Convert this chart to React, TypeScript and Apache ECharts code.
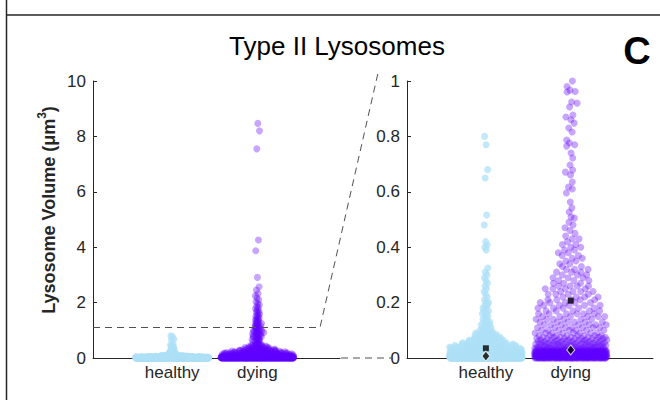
import React, { useEffect, useRef } from "react";
import * as echarts from "echarts";

// ---------------- data ----------------
const categories = ["healthy", "dying"];
const categoryX = [1, 2];

// healthy: dense part as value levels with the number of points at each level
const healthyLevels = [0, 0.005, 0.01, 0.015, 0.02, 0.025, 0.03, 0.035, 0.04, 0.045, 0.05, 0.055, 0.06, 0.065, 0.07, 0.075, 0.08, 0.085, 0.09, 0.095, 0.1,
  0.11, 0.12, 0.13, 0.14, 0.15, 0.16, 0.17, 0.18, 0.19, 0.2, 0.21, 0.22, 0.23, 0.24, 0.25, 0.26, 0.27, 0.28, 0.29];
const healthyCounts = [150, 140, 100, 50, 25, 30, 22, 16, 13, 10, 9, 8, 7, 6, 5, 5, 4, 4, 4, 3, 3,
  3, 3, 3, 2, 2, 2, 2, 2, 2, 2, 1, 1, 1, 1, 1, 1, 1, 1, 1];
// healthy: sparse single points
const healthySingles = [0.3, 0.31, 0.325, 0.39, 0.4, 0.408, 0.42, 0.48, 0.516, 0.65, 0.68, 0.77, 0.8];

// dying: dense part
const dyingLevels = [0, 0.005, 0.01, 0.015, 0.02, 0.025, 0.03, 0.035, 0.04, 0.045, 0.05, 0.055, 0.06, 0.065, 0.07, 0.075,
  0.08, 0.09, 0.1, 0.11, 0.12, 0.13, 0.14, 0.15, 0.16, 0.17, 0.18, 0.19, 0.2, 0.21, 0.22, 0.23, 0.24, 0.25, 0.26, 0.27, 0.28, 0.29,
  0.3, 0.31, 0.32, 0.33, 0.34, 0.35, 0.36, 0.37, 0.38, 0.39, 0.4, 0.41, 0.42, 0.43, 0.44, 0.45, 0.46, 0.47, 0.48, 0.49];
const dyingCounts = [70, 70, 65, 60, 55, 45, 18, 14, 12, 11, 10, 10, 9, 8, 7, 7,
  8, 8, 7, 7, 7, 6, 6, 6, 6, 5, 5, 5, 5, 5, 4, 4, 4, 4, 4, 3, 3, 3,
  3, 3, 3, 2, 2, 2, 2, 2, 2, 2, 2, 2, 1, 2, 1, 1, 1, 1, 1, 1];
// dying: sparse single points (0.5 .. 1)
const dyingSingles = [0.505, 0.509, 0.527, 0.542, 0.563, 0.596, 0.61, 0.617, 0.635, 0.661, 0.671, 0.679, 0.697, 0.722, 0.74, 0.765, 0.77,
  0.776, 0.787, 0.816, 0.83, 0.848, 0.86, 0.87, 0.877, 0.906, 0.92, 0.924, 0.96, 0.962, 0.967, 0.98, 1.0];
// dying: long tail above 1
const dyingTail = [1.01, 1.03, 1.04, 1.06, 1.08, 1.09, 1.11, 1.13, 1.15, 1.16, 1.18, 1.2, 1.22, 1.24, 1.25, 1.27, 1.3, 1.32, 1.34, 1.37,
  1.39, 1.42, 1.44, 1.47, 1.5, 1.53, 1.56, 1.6, 1.63, 1.67, 1.7, 1.74, 1.78, 1.82, 1.87, 1.92, 1.97, 2.03, 2.1, 2.17, 2.25, 2.33, 2.45,
  2.57, 2.91, 3.87, 4.26, 7.55, 8.2, 8.47];

// summary markers (right panel)
const meanValues = [0.035, 0.207];
const medianValues = [0.007, 0.029];

// tick settings
const leftTicks = { min: 0, max: 10, interval: 2 };
const rightTicks = { min: 0, max: 1, interval: 0.2 };

// ---------------- layout helpers ----------------
const FONT = "Liberation Sans, Arial, Helvetica, sans-serif";
const AX = "#262626";
const X_MIN = 0.07;
const X_MAX = 2.97;
const GRID_W = 247;
const PX_PER_UNIT = GRID_W / (X_MAX - X_MIN);
const GOLD = 0.6180339887498949;

function expand(levels: number[], counts: number[], extra: number[][]): number[] {
  const out: number[] = [];
  levels.forEach((v, i) => {
    for (let k = 0; k < counts[i]; k++) out.push(v);
  });
  extra.forEach((arr) => arr.forEach((v) => out.push(v)));
  return out;
}

// deterministic violin-style spread: half-width follows local point density
function spread(values: number[], center: number, K: number): number[][] {
  const wMin = 2, wMax = 36.5, h = 0.015;
  return values.map((v, i) => {
    let n = 0;
    for (let j = 0; j < values.length; j++) if (Math.abs(values[j] - v) < h) n++;
    const w = Math.max(wMin, Math.min(wMax, K * n));
    const f = (0.5 + i * GOLD) % 1;
    const u = f * 2 - 1;
    return [center + (u * w) / PX_PER_UNIT, v];
  });
}

const healthyValues = expand(healthyLevels, healthyCounts, [healthySingles]);
const dyingValues = expand(dyingLevels, dyingCounts, [dyingSingles, dyingTail]);
const healthyPts = spread(healthyValues, categoryX[0], 0.6);
const dyingPts = spread(dyingValues, categoryX[1], 2.2);

const HEALTHY_COLOR = "#ade0f7";
const DYING_COLOR = "#6200ff";

function xAxis(gridIndex: number) {
  return {
    gridIndex,
    type: "value",
    min: X_MIN,
    max: X_MAX,
    axisLine: { show: true, lineStyle: { color: AX, width: 1 } },
    axisTick: { show: false },
    splitLine: { show: false },
    axisLabel: {
      customValues: categoryX,
      formatter: (v: number) => {
        const i = categoryX.findIndex((c) => Math.abs(c - v) < 1e-6);
        return i >= 0 ? categories[i] : "";
      },
      color: AX,
      fontSize: 17,
      fontFamily: FONT,
      margin: 6,
    },
  };
}

function yAxis(gridIndex: number, t: { min: number; max: number; interval: number }) {
  return {
    gridIndex,
    type: "value",
    min: t.min,
    max: t.max,
    interval: t.interval,
    axisLine: { show: true, lineStyle: { color: AX, width: 1 } },
    axisTick: { show: true, inside: true, length: 4, lineStyle: { color: AX } },
    splitLine: { show: false },
    axisLabel: { color: AX, fontSize: 17, fontFamily: FONT, margin: 7 },
  };
}

function pointSeries(xi: number, data: number[][], color: string, opacity: number) {
  return {
    type: "scatter",
    xAxisIndex: xi,
    yAxisIndex: xi,
    data,
    symbol: "circle",
    symbolSize: 7,
    itemStyle: { color, opacity },
    silent: true,
    clip: true,
  };
}

const dash = { stroke: "#505050", lineWidth: 1, lineDash: [7, 5], fill: "none" };

const option = {
  animation: false,
  backgroundColor: "#ffffff",
  grid: [
    { left: 93, top: 81, width: GRID_W, height: 277 },
    { left: 407, top: 81, width: 246, height: 277 },
  ],
  xAxis: [xAxis(0), xAxis(1)],
  yAxis: [yAxis(0, leftTicks), yAxis(1, rightTicks)],
  series: [
    pointSeries(0, healthyPts, HEALTHY_COLOR, 0.75),
    pointSeries(0, dyingPts, DYING_COLOR, 0.35),
    pointSeries(1, healthyPts, HEALTHY_COLOR, 0.75),
    pointSeries(1, dyingPts, DYING_COLOR, 0.35),
    {
      type: "scatter",
      xAxisIndex: 1,
      yAxisIndex: 1,
      z: 5,
      silent: true,
      symbol: "rect",
      symbolSize: 6,
      itemStyle: { color: "#000000" },
      data: categoryX.map((c, i) => [c, meanValues[i]]),
    },
    {
      type: "scatter",
      xAxisIndex: 1,
      yAxisIndex: 1,
      z: 5,
      silent: true,
      symbol: "diamond",
      symbolSize: [8, 10],
      itemStyle: { color: "#000000", borderColor: "#ffffff", borderWidth: 1 },
      data: categoryX.map((c, i) => [c, medianValues[i]]),
    },
  ],
  graphic: [
    { type: "line", shape: { x1: 6.5, y1: 0, x2: 6.5, y2: 400 }, style: { stroke: "#262626", lineWidth: 1.5 } },
    { type: "line", shape: { x1: 6, y1: 15, x2: 660, y2: 15 }, style: { stroke: "#262626", lineWidth: 1.5 } },
    { type: "polyline", shape: { points: [[93, 327.5], [320, 327.5], [378, 73]] }, style: dash, z: 10 },
    { type: "line", shape: { x1: 341, y1: 358, x2: 393, y2: 358 }, style: dash, z: 10 },
    {
      type: "text",
      x: 337,
      y: 46,
      style: { text: "Type II Lysosomes", fontSize: 26, fontFamily: FONT, fill: "#000000", textAlign: "center", textVerticalAlign: "middle" },
    },
    {
      type: "text",
      x: 637,
      y: 51,
      style: { text: "C", fontSize: 38, fontWeight: "bold", fontFamily: FONT, fill: "#000000", textAlign: "center", textVerticalAlign: "middle" },
    },
    {
      type: "text",
      x: 47,
      y: 210,
      rotation: Math.PI / 2,
      style: {
        text: "{b|Lysosome Volume (μm}{s|3}{b|)}",
        textAlign: "center",
        textVerticalAlign: "middle",
        rich: {
          b: { fontSize: 18, fontWeight: "bold", fontFamily: FONT, fill: AX, lineHeight: 22, verticalAlign: "bottom" },
          s: { fontSize: 12, fontWeight: "bold", fontFamily: FONT, fill: AX, lineHeight: 22, verticalAlign: "top" },
        },
      },
    },
  ],
};

export default function App() {
  const ref = useRef<HTMLDivElement>(null);
  useEffect(() => {
    const chart = echarts.init(ref.current!, null, { renderer: "svg" });
    chart.setOption(option as any);
    return () => chart.dispose();
  }, []);
  return (
    <div
      ref={ref}
      style={{ position: "fixed", left: 0, top: 0, width: 660, height: 400, background: "#ffffff" }}
    />
  );
}
